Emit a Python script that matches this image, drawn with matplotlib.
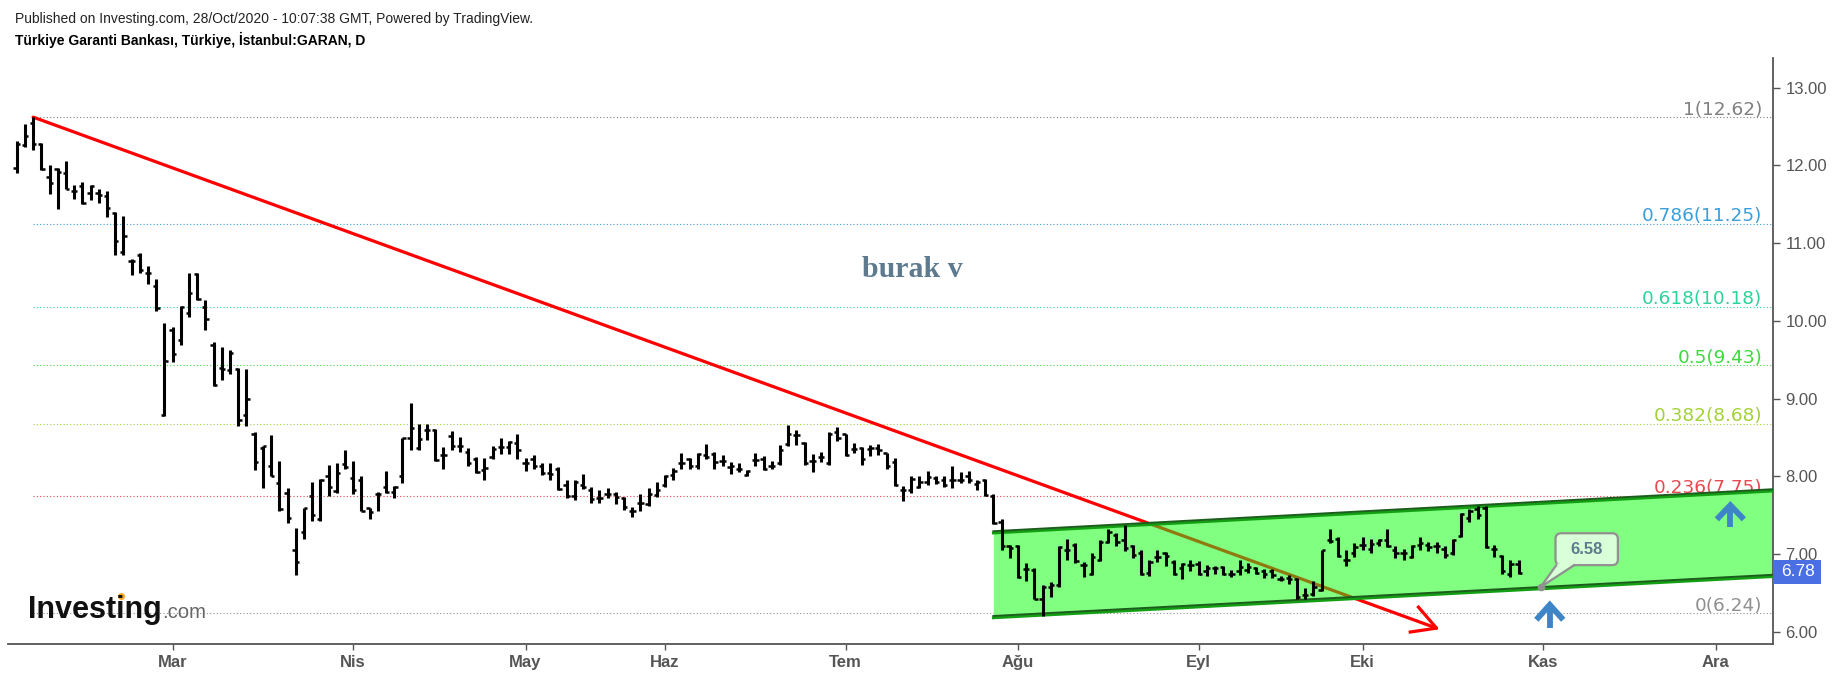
import matplotlib
matplotlib.use("Agg")
import matplotlib.pyplot as plt
from matplotlib.lines import Line2D
from matplotlib.patches import FancyBboxPatch, Polygon, Rectangle
import numpy as np

plt.rcParams["font.family"] = ["Liberation Sans", "DejaVu Sans"]

opens = [11.97,12.26,12.55,12.27,11.85,11.95,11.90,11.67,11.73,11.65,11.65,11.60,11.39,10.89,10.77,10.85,10.62,10.45,
         8.79,9.88,9.76,10.10,10.60,10.18,9.69,9.39,9.37,9.38,8.79,8.55,8.36,8.14,7.92,7.79,7.05,7.29,7.75,7.45,8.00,7.81,
         8.16,7.98,7.95,7.59,7.77,7.86,7.80,8.00,8.49,8.36,8.60,8.60,8.27,8.52,8.39,8.31,8.23,8.08,8.25,8.38,8.38,8.43,
         8.17,8.23,8.14,8.05,8.09,7.89,7.75,7.89,7.83,7.72,7.78,7.77,7.72,7.55,7.66,7.64,7.76,7.89,8.02,8.17,8.22,8.13,
         8.27,8.29,8.20,8.12,8.10,8.02,8.21,8.23,8.14,8.17,8.42,8.53,8.43,8.20,8.25,8.17,8.57,8.54,8.35,8.36,8.35,8.36,
         8.30,8.19,7.83,7.82,7.87,7.93,7.98,7.95,7.95,7.96,8.01,7.90,7.96,7.75,7.42,7.10,7.10,6.81,6.80,6.43,6.58,6.60,
         7.05,7.12,6.86,6.75,6.93,7.16,7.25,7.18,7.10,7.01,6.76,6.97,7.01,6.90,6.82,6.86,6.88,6.78,6.82,6.83,6.75,6.78,
         6.80,6.82,6.78,6.78,6.68,6.69,6.68,6.47,6.49,6.54,7.18,7.19,6.93,7.01,7.12,7.07,7.14,7.18,7.06,7.01,6.97,7.12,
         7.12,7.10,7.07,7.01,7.24,7.46,7.58,7.60,7.07,6.98,6.75,6.88]
highs = [12.31,12.53,12.62,12.29,12.00,11.96,12.06,11.75,11.78,11.75,11.69,11.67,11.40,11.35,10.80,10.87,10.70,10.54,
         9.97,9.92,10.19,10.62,10.62,10.27,9.73,9.67,9.63,9.40,9.38,8.57,8.39,8.53,8.20,7.85,7.34,7.60,7.93,7.97,8.15,8.17,
         8.34,8.20,8.00,7.60,7.80,8.07,7.88,8.50,8.94,8.67,8.68,8.61,8.38,8.59,8.51,8.36,8.25,8.24,8.39,8.50,8.46,8.55,
         8.24,8.27,8.17,8.17,8.12,7.95,7.96,8.03,7.86,7.82,7.85,7.80,7.74,7.61,7.77,7.85,7.93,8.02,8.11,8.30,8.24,8.30,
         8.42,8.32,8.27,8.19,8.17,8.08,8.30,8.26,8.20,8.40,8.66,8.60,8.44,8.29,8.32,8.57,8.63,8.55,8.43,8.38,8.40,8.42,
         8.30,8.24,7.88,8.01,8.00,8.07,8.01,8.00,8.13,8.06,8.07,7.96,7.97,7.78,7.45,7.12,7.12,6.89,6.82,6.60,6.64,7.11,
         7.20,7.15,6.90,7.01,7.18,7.32,7.27,7.38,7.12,7.05,6.93,7.06,7.03,6.93,6.89,6.92,6.91,6.86,6.85,6.85,6.80,6.92,
         6.89,6.84,6.81,6.81,6.72,6.73,6.70,6.57,6.66,7.06,7.33,7.22,7.06,7.15,7.22,7.20,7.20,7.32,7.10,7.07,7.12,7.22,
         7.16,7.16,7.10,7.20,7.53,7.58,7.62,7.62,7.12,6.99,6.93,6.93]
lows = [11.90,12.23,12.20,11.94,11.63,11.44,11.69,11.57,11.50,11.56,11.52,11.33,10.85,10.85,10.59,10.61,10.47,10.13,
        8.78,9.47,9.69,10.05,10.27,9.88,9.16,9.24,9.32,8.65,8.65,8.08,7.85,8.00,7.55,7.40,6.73,7.20,7.43,7.43,7.75,7.79,
        8.09,7.77,7.55,7.45,7.56,7.79,7.72,7.91,8.34,8.34,8.47,8.20,8.10,8.34,8.31,8.14,8.05,7.95,8.22,8.29,8.29,8.22,
        8.07,8.10,8.02,7.95,7.83,7.72,7.70,7.84,7.66,7.66,7.72,7.65,7.57,7.48,7.55,7.62,7.74,7.87,7.96,8.10,8.10,8.10,
        8.22,8.10,8.14,8.03,8.06,8.00,8.14,8.08,8.10,8.15,8.39,8.41,8.15,8.06,8.18,8.15,8.45,8.26,8.30,8.15,8.26,8.27,
        8.10,7.88,7.68,7.79,7.85,7.89,7.90,7.87,7.85,7.91,7.92,7.82,7.75,7.39,7.06,6.95,6.70,6.65,6.42,6.20,6.45,6.58,
        6.92,6.89,6.71,6.73,6.91,7.14,7.10,7.04,6.95,6.73,6.72,6.90,6.85,6.73,6.68,6.78,6.73,6.72,6.75,6.73,6.71,6.73,
        6.76,6.75,6.70,6.69,6.65,6.62,6.42,6.42,6.46,6.53,7.14,6.96,6.85,6.96,7.06,7.02,7.10,7.09,6.95,6.93,6.95,7.06,
        7.04,7.02,6.95,6.99,7.22,7.41,7.45,7.08,6.96,6.75,6.71,6.75]
closes = [12.27,12.38,12.27,11.95,11.77,11.91,11.70,11.67,11.51,11.73,11.62,11.45,11.03,11.09,10.77,10.65,10.62,10.17,
          9.49,9.57,10.18,10.36,10.28,10.02,9.17,9.38,9.59,8.73,9.00,8.19,8.39,8.00,7.58,7.46,6.90,7.59,7.50,7.95,7.87,8.04,
          8.12,7.82,7.56,7.54,7.78,7.80,7.87,8.49,8.62,8.48,8.60,8.21,8.27,8.39,8.39,8.17,8.06,8.11,8.35,8.38,8.44,8.34,
          8.17,8.14,8.05,8.03,7.84,7.75,7.93,7.87,7.71,7.72,7.78,7.73,7.61,7.55,7.66,7.78,7.82,8.00,8.07,8.17,8.13,8.29,
          8.25,8.19,8.20,8.14,8.10,8.07,8.21,8.09,8.14,8.34,8.54,8.53,8.17,8.20,8.25,8.55,8.49,8.28,8.35,8.22,8.37,8.34,
          8.13,7.89,7.83,7.97,7.93,7.99,7.93,7.89,7.95,7.96,7.95,7.93,7.76,7.40,7.10,7.08,6.71,6.81,6.43,6.58,6.60,7.09,
          7.05,6.91,6.86,6.97,7.16,7.28,7.16,7.08,6.99,6.75,6.90,6.97,6.98,6.74,6.87,6.86,6.75,6.82,6.82,6.75,6.75,6.83,
          6.83,6.76,6.75,6.73,6.68,6.68,6.45,6.47,6.58,7.05,7.17,6.98,6.93,7.09,7.12,7.13,7.18,7.10,7.02,7.01,7.10,7.14,
          7.09,7.10,6.99,7.18,7.52,7.55,7.50,7.09,7.07,6.78,6.87,6.76]

fib_ratios = ["1", "0.786", "0.618", "0.5", "0.382", "0.236", "0"]
fib_values = [12.62, 11.25, 10.18, 9.43, 8.68, 7.75, 6.24]
fib_colors = ["#808080", "#3a9fd8", "#2cd39a", "#3fd83f", "#a3d13a", "#e8484f", "#909090"]

month_pos = [19, 41, 62, 79, 101, 122, 144, 164, 186, 207]
month_labels = ["Mar", "Nis", "May", "Haz", "Tem", "Ağu", "Eyl", "Eki", "Kas", "Ara"]
price_ticks = [6, 7, 8, 9, 10, 11, 12, 13]

channel_x = [119, 214]
channel_top = [7.29, 7.83]
channel_bottom = [6.20, 6.73]

trend_x = [2, 173.0]
trend_y = [12.62, 6.05]
arrow_x = [170.8, 173.0, 169.8]
arrow_y = [6.32, 6.05, 6.0]

up_arrow_x = [186.8, 208.8]
up_arrow_tip = [6.35, 7.63]
up_arrow_base = [6.05, 7.35]

callout_x = 185.7
callout_y = 6.58
callout_box = (187.5, 6.86, 7.6, 0.41)
last_price = 6.78

fig = plt.figure(figsize=(18.38, 6.77), dpi=100)
ax = fig.add_axes([8 / 1838, 1 - 644 / 677, (1773 - 8) / 1838, (644 - 58) / 677])

x = np.arange(len(opens))

# fib levels go under the channel
for ratio, val, col in zip(fib_ratios, fib_values, fib_colors):
    ax.plot([2, 214], [val, val], color=col, lw=0.8, ls=(0, (1, 2)), zorder=1)
    ax.text(212.7, val - 0.02, f"{ratio}({val:.2f})", color=col, fontsize=13.3, family="DejaVu Sans",
            ha="right", va="bottom", zorder=1)

ax.plot(trend_x, trend_y, color="#ff0000", lw=2.3, zorder=1.5, solid_capstyle="round")
ax.plot(arrow_x, arrow_y, color="#ff0000", lw=2.3, zorder=1.5)

ax.fill_between(channel_x, channel_bottom, channel_top, color="#80ff80", lw=0, zorder=2)
olive = ax.plot(trend_x, trend_y, color="#8f7a10", lw=2.3, zorder=2.5)[0]
poly = ax.fill_between(channel_x, channel_bottom, channel_top, color="none", lw=0, zorder=2)
olive.set_clip_path(poly.get_paths()[0], transform=ax.transData)
for edge in (channel_top, channel_bottom):
    ax.plot(channel_x, [v - 0.018 for v in edge], color="#12a012", lw=2.0, zorder=2.6)
    ax.plot(channel_x, [v + 0.006 for v in edge], color="#1c5c1c", lw=1.4, zorder=2.7)

# ohlc bars
ax.vlines(x, lows, highs, color="black", lw=2.2, zorder=3)
ax.hlines(opens, x - 0.4, x, color="black", lw=1.8, zorder=3)
ax.hlines(closes, x, x + 0.4, color="black", lw=1.8, zorder=3)

for ax_x, tip, base in zip(up_arrow_x, up_arrow_tip, up_arrow_base):
    wing = tip - (tip - base) * 0.55
    ax.plot([ax_x, ax_x], [base, tip - 0.04], color="#3d85c6", lw=4.2, zorder=4, solid_capstyle="butt")
    ax.plot([ax_x - 1.4, ax_x, ax_x + 1.4], [wing, tip, wing], color="#3d85c6", lw=4.2, zorder=4,
            solid_joinstyle="miter")

# callout on the channel
bx, by, bw, bh = callout_box
ax.add_patch(FancyBboxPatch((bx, by), bw, bh, boxstyle="round,pad=0,rounding_size=0.7", mutation_aspect=0.1055,
                            fc="#d8ffd8", ec="#909090", lw=1.6, zorder=5))
ax.add_patch(Polygon([(callout_x, callout_y), (bx + 0.1, by + 0.02), (bx + 2.3, by + 0.02)], fc="#d8ffd8", ec="none", zorder=5.1))
ax.plot([bx + 0.1, callout_x, bx + 2.3], [by, callout_y, by], color="#909090", lw=1.6, zorder=5.2)
ax.plot([callout_x], [callout_y], "o", color="#909090", ms=4.5, zorder=6)
ax.text(bx + bw / 2, by + bh / 2, f"{callout_y:.2f}", color="#5d7a8f", fontsize=12, fontweight="bold",
        ha="center", va="center", zorder=6)

ax.text(109.1, 10.66, "burak v", color="#5d7a8f", fontsize=21.5, fontweight="bold", family="Liberation Serif",
        ha="center", va="center", zorder=5)

ax.set_xlim(-1.06, 214)
ax.set_ylim(5.846, 13.38)
ax.yaxis.tick_right()
ax.set_yticks(price_ticks)
ax.set_yticklabels([f"{p:.2f}" for p in price_ticks])
ax.set_xticks(month_pos)
ax.set_xticklabels(month_labels, fontweight="bold")
ax.tick_params(axis="y", colors="#555555", labelsize=12, length=5, width=1, pad=4)
ax.tick_params(axis="x", colors="#555555", labelsize=12, length=4, width=1, pad=4)
ax.spines["top"].set_visible(False)
ax.spines["left"].set_visible(False)
ax.spines["right"].set_color("#555555")
ax.spines["bottom"].set_color("#555555")
ax.spines["right"].set_linewidth(1.3)
ax.spines["bottom"].set_linewidth(1.3)

# last price tag on the scale
ax.add_patch(Rectangle((1.0, last_price - 0.16), 48 / 1765, 0.31, transform=ax.get_yaxis_transform(), fc="#4a6fe3",
                       ec="none", zorder=7, clip_on=False))
ax.text(1.0 + 25 / 1765, last_price, f"{last_price:.2f}", transform=ax.get_yaxis_transform(), color="white",
        fontsize=12.5, ha="center", va="center", zorder=8, clip_on=False)

fig.text(15 / 1838, 1 - 19 / 677, "Published on Investing.com, 28/Oct/2020 - 10:07:38 GMT, Powered by TradingView.",
         fontsize=10, color="#222222", va="center")
fig.text(15 / 1838, 1 - 40 / 677, "Türkiye Garanti Bankası, Türkiye, İstanbul:GARAN, D",
         fontsize=10, fontweight="bold", color="black", va="center")

# logo
fig.text(28 / 1838, 1 - 618 / 677, "Investing", fontsize=22, fontweight="bold", color="#111111", va="baseline")
fig.text(162 / 1838, 1 - 618 / 677, ".com", fontsize=14.6, color="#666666", va="baseline")
fig.add_artist(Line2D([121 / 1838], [1 - 596 / 677], marker="o", ms=4, color="#f5a623", transform=fig.transFigure))

fig.savefig("out.png", dpi=100)
